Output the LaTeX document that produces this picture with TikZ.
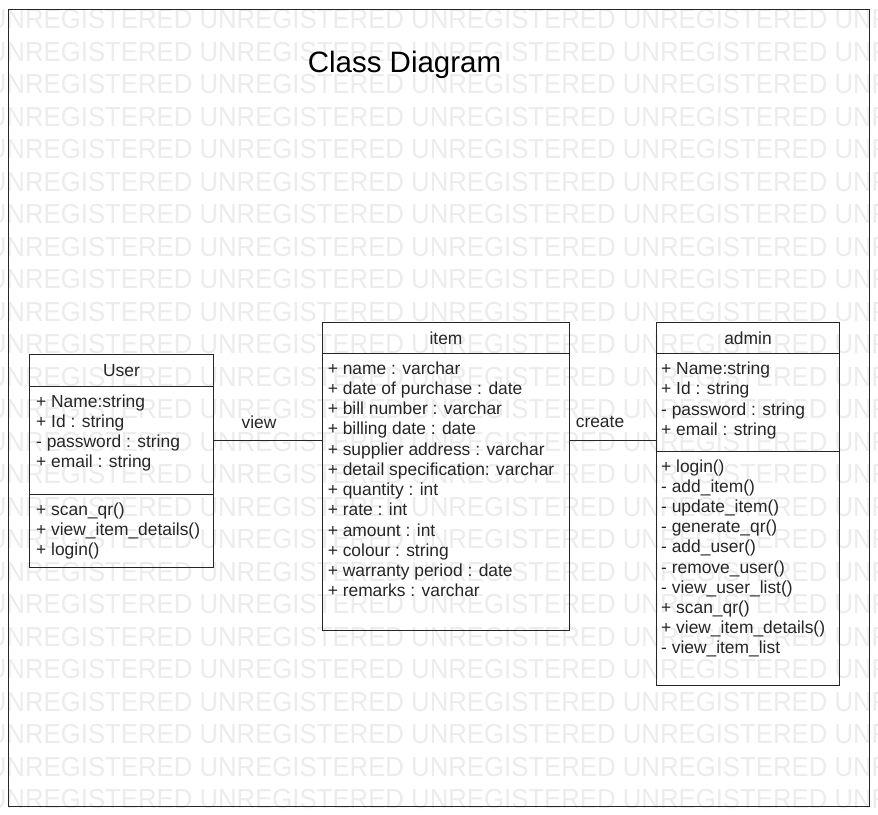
\documentclass[tikz,border=0pt]{standalone}
\usepackage{fontspec}
\setmainfont{Liberation Sans}
\definecolor{wmgray}{gray}{0.925}
\definecolor{ink}{gray}{0.15}
\begin{document}
\begin{tikzpicture}[x=1pt,y=-1pt,
  box/.style={draw=ink, line width=1pt, inner sep=0pt, anchor=north west},
  txt/.style={text=ink, inner sep=0pt, font=\fontsize{17.4}{20}\selectfont},
  ln/.style={txt, anchor=base west},
  wm/.style={text=wmgray, inner sep=0pt, anchor=base west, font=\fontsize{27.5}{30}\selectfont},
  conn/.style={draw=ink, line width=1pt}]
\useasboundingbox (0,0) rectangle (878,814);
\fill[white] (0,0) rectangle (878,814);
% watermark
\begin{scope}
\clip (0,0) rectangle (878,814);
\foreach \r in {0,...,24}
  \node[wm] (wm\r) at (-12.3, {28.5+32.5*\r}) {\scalebox{0.936}[1]{UNREGISTERED UNREGISTERED UNREGISTERED UNREGISTERED UNREGISTERED}};
\end{scope}
% frame
\node[draw=ink, line width=1.3pt, inner sep=0pt, anchor=north west, minimum width=861pt, minimum height=797pt] (frame) at (8,9) {};
% title
\node[txt, anchor=base, text=black, font=\fontsize{29.5}{34}\selectfont] (title) at (404.5,72) {Class Diagram};
% User
\node[box, minimum width=184pt, minimum height=32pt] (userhead) at (29,354) {};
\node[txt] (usertitle) at (userhead.center) {User};
\node[box, minimum width=184pt, minimum height=108pt] (userattr) at (29,386) {};
\node[box, minimum width=184pt, minimum height=73pt] (usermeth) at (29,494) {};
\foreach \t [count=\i] in {{+ Name:string},{+ Id : string},{- password : string},{+ email : string}}
  \node[ln] (ua\i) at (36, {407+20.3*(\i-1)}) {\t};
\foreach \t [count=\i] in {{+ scan\_qr()},{+ view\_item\_details()},{+ login()}}
  \node[ln] (um\i) at (36, {515+20.3*(\i-1)}) {\t};
% item
\node[box, minimum width=247pt, minimum height=31pt] (itemhead) at (322,322) {};
\node[txt] (itemtitle) at (itemhead.center) {item};
\node[box, minimum width=247pt, minimum height=277pt] (itemattr) at (322,353) {};
\foreach \t [count=\i] in {{+ name : varchar},{+ date of purchase : date},{+ bill number : varchar},{+ billing date : date},{+ supplier address : varchar},{+ detail specification: varchar},{+ quantity : int},{+ rate : int},{+ amount : int},{+ colour : string},{+ warranty period : date},{+ remarks : varchar}}
  \node[ln] (ia\i) at (327.6, {374+20.27*(\i-1)}) {\t};
% admin
\node[box, minimum width=183pt, minimum height=31pt] (adminhead) at (656,322) {};
\node[txt] (admintitle) at (adminhead.center) {admin};
\node[box, minimum width=183pt, minimum height=98pt] (adminattr) at (656,353) {};
\node[box, minimum width=183pt, minimum height=234pt] (adminmeth) at (656,451) {};
\foreach \t [count=\i] in {{+ Name:string},{+ Id : string},{- password : string},{+ email : string}}
  \node[ln] (aa\i) at (661, {374+20.5*(\i-1)}) {\t};
\foreach \t [count=\i] in {{+ login()},{- add\_item()},{- update\_item()},{- generate\_qr()},{- add\_user()},{- remove\_user()},{- view\_user\_list()},{+ scan\_qr()},{+ view\_item\_details()},{- view\_item\_list}}
  \node[ln] (am\i) at (661, {472.5+20.1*(\i-1)}) {\t};
% connectors
\coordinate (vy) at (0,440);
\draw[conn] (userattr.east |- vy) -- (itemattr.west |- vy);
\draw[conn] (itemattr.east |- vy) -- (adminattr.west |- vy);
\node[txt, anchor=base] (viewlbl) at (259,428) {view};
\node[txt, anchor=base] (createlbl) at (600,427) {create};
\end{tikzpicture}
\end{document}
